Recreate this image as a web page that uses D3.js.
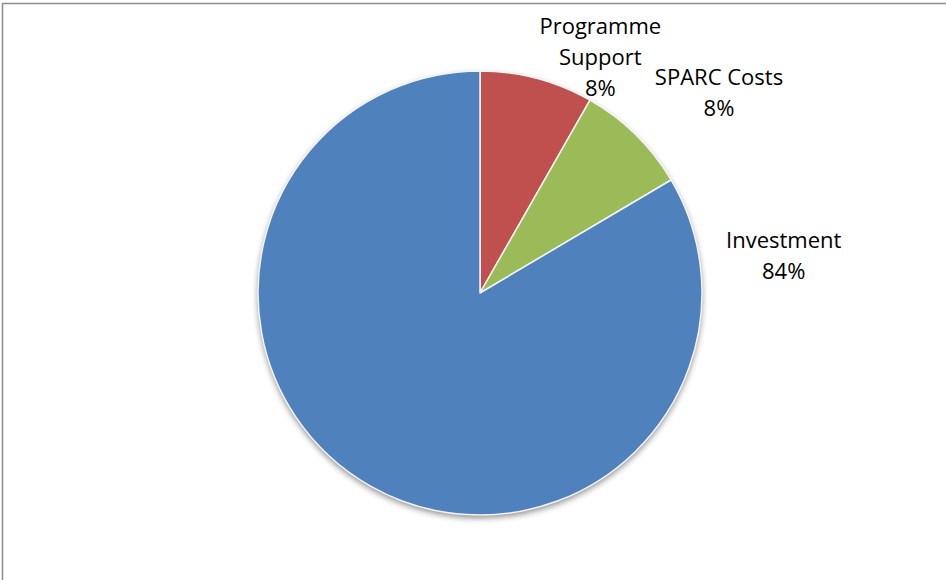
<!DOCTYPE html>
<html>
<head>
<meta charset="utf-8">
<script src="https://cdn.jsdelivr.net/npm/d3@7"></script>
<style>
  html, body { margin: 0; padding: 0; background: #fff; }
  svg { display: block; }
  .lbl { font-family: "Open Sans", "Noto Sans", sans-serif; font-size: 22px; fill: #000; }
</style>
</head>
<body>
<svg id="chart" width="946" height="580"></svg>
<script>
// Budget split (percent of total), drawn clockwise from 12 o'clock
const categories = ["Programme Support", "SPARC Costs", "Investment"];
const values = [8.25, 8.25, 83.5];
const colors = ["#C0504D", "#9BBB59", "#4F81BD"];
// Label text lines (category name wraps as in the chart)
const labelLines = [["Programme", "Support"], ["SPARC Costs"], ["Investment"]];

const W = 946, H = 580;
const cx = 480, cy = 293, R = 222;

const svg = d3.select("#chart");

// Chart frame
svg.append("rect")
  .attr("x", 2.5).attr("y", 3.5)
  .attr("width", W + 10).attr("height", H + 10)
  .attr("fill", "#fff")
  .attr("stroke", "#8c8c8c").attr("stroke-width", 1.5);

const defs = svg.append("defs");
const shadow = defs.append("filter").attr("id", "shadow")
  .attr("x", "-20%").attr("y", "-20%").attr("width", "140%").attr("height", "140%");
shadow.append("feGaussianBlur").attr("in", "SourceAlpha").attr("stdDeviation", 3);
shadow.append("feOffset").attr("dx", 0).attr("dy", 3).attr("result", "b");
shadow.append("feComponentTransfer").append("feFuncA").attr("type", "linear").attr("slope", 0.45);

const data = categories.map((c, i) => ({ name: c, value: values[i], color: colors[i], lines: labelLines[i] }));

const pie = d3.pie().value(d => d.value).sort(null);
const arcs = pie(data);
const arc = d3.arc().innerRadius(0).outerRadius(R);

const g = svg.append("g").attr("transform", `translate(${cx},${cy})`);

// soft shadow beneath the pie
g.append("circle").attr("r", R).attr("fill", "#000").attr("filter", "url(#shadow)");

g.selectAll("path.slice")
  .data(arcs)
  .join("path")
  .attr("class", "slice")
  .attr("d", arc)
  .attr("fill", d => d.data.color)
  .attr("stroke", "#f4f4f4")
  .attr("stroke-width", 1.5)
  .attr("stroke-linejoin", "round");

// Label anchors in polar form around the pie centre (degrees clockwise from 12 o'clock)
const labelPos = [
  { angle: 27, r: 265 },
  { angle: 50, r: 312 },
  { angle: 83, r: 306 }
];
const lineH = 31;

arcs.forEach((a, i) => {
  const lp = labelPos[i];
  const th = lp.angle * Math.PI / 180;
  const lines = a.data.lines.concat([Math.round(a.data.value) + "%"]);
  const x = Math.sin(th) * lp.r;
  const y = -Math.cos(th) * lp.r;
  const t = g.append("text").attr("class", "lbl").attr("text-anchor", "middle");
  const y0 = y - (lines.length - 1) * lineH / 2;
  lines.forEach((ln, k) => {
    t.append("tspan").attr("x", x).attr("y", y0 + k * lineH).attr("dy", "0.35em").text(ln);
  });
});
</script>
</body>
</html>
